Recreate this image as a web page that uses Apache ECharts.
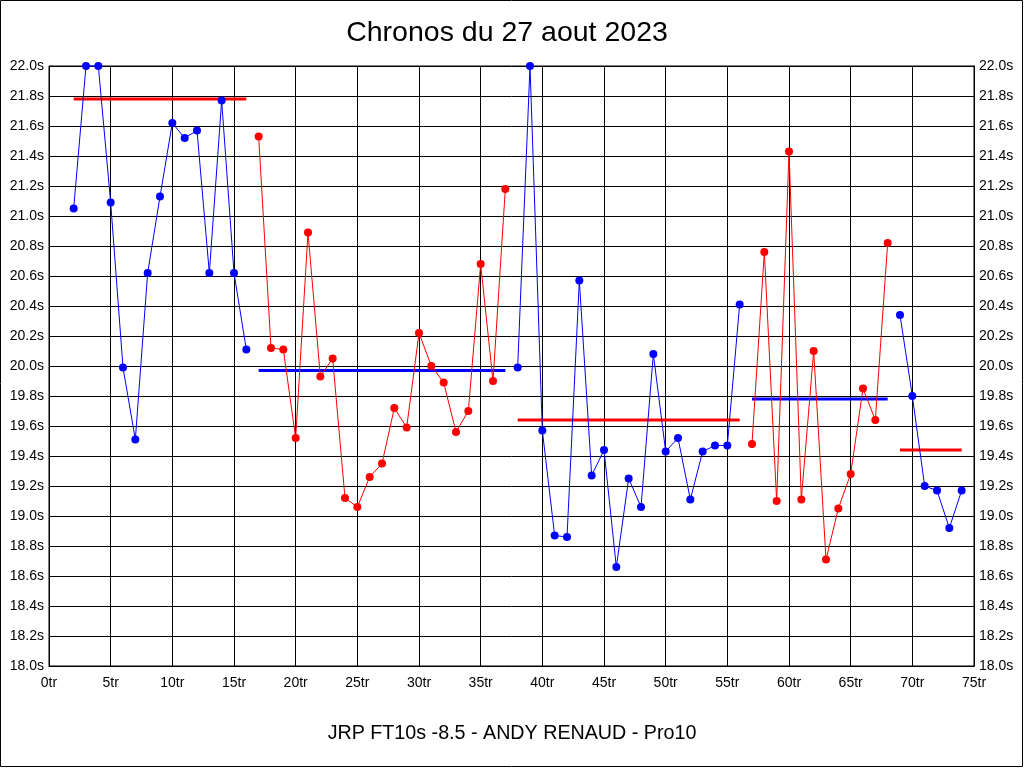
<!DOCTYPE html>
<html>
<head>
<meta charset="utf-8">
<script src="https://cdn.jsdelivr.net/npm/echarts@6/dist/echarts.min.js"></script>
<style>
html,body{margin:0;padding:0;background:#fff;}
#chart{width:1024px;height:768px;}
</style>
</head>
<body>
<div id="chart"></div>
<script>
// Stint 1 (blue)
const laps1 = [2,3,4,5,6,7,8,9,10,11,12,13,14,15,16];
const times1 = [21.05,22.0,22.0,21.09,19.99,19.51,20.62,21.13,21.62,21.52,21.57,20.62,21.77,20.62,20.11];
// Stint 2 (red)
const laps2 = [17,18,19,20,21,22,23,24,25,26,27,28,29,30,31,32,33,34,35,36,37];
const times2 = [21.53,20.12,20.11,19.52,20.89,19.93,20.05,19.12,19.06,19.26,19.35,19.72,19.59,20.22,20.00,19.89,19.56,19.70,20.68,19.90,21.18];
// Stint 3 (blue)
const laps3 = [38,39,40,41,42,43,44,45,46,47,48,49,50,51,52,53,54,55,56];
const times3 = [19.99,22.0,19.57,18.87,18.86,20.57,19.27,19.44,18.66,19.25,19.06,20.08,19.43,19.52,19.11,19.43,19.47,19.47,20.41];
// Stint 4 (red)
const laps4 = [57,58,59,60,61,62,63,64,65,66,67,68];
const times4 = [19.48,20.76,19.10,21.43,19.11,20.10,18.71,19.05,19.28,19.85,19.64,20.82];
// Stint 5 (blue)
const laps5 = [69,70,71,72,73,74];
const times5 = [20.34,19.80,19.20,19.17,18.92,19.17];
// Stint averages
const avgTimes = [21.78,19.97,19.64,19.78,19.44];

const stintColors = ['#0000ff','#ff0000','#0000ff','#ff0000','#0000ff'];
const avgColors = ['#ff0000','#0000ff','#ff0000','#0000ff','#ff0000'];

const xTicks = [0,5,10,15,20,25,30,35,40,45,50,55,60,65,70,75];

const titleText = 'Chronos du 27 aout 2023';
const subText = 'JRP FT10s -8.5 - ANDY RENAUD - Pro10';

const stints = [[laps1,times1],[laps2,times2],[laps3,times3],[laps4,times4],[laps5,times5]];
const FONT = '"Liberation Sans", Arial, sans-serif';

const series = [];
stints.forEach((s, i) => {
  const laps = s[0], times = s[1];
  series.push({
    type: 'line',
    yAxisIndex: 0,
    data: laps.map((l, k) => [l, times[k]]),
    symbol: 'circle',
    symbolSize: 8,
    showSymbol: true,
    itemStyle: {color: stintColors[i]},
    lineStyle: {color: stintColors[i], width: 1},
    clip: false,
    z: 3
  });
  series.push({
    type: 'line',
    yAxisIndex: 0,
    data: [[laps[0], avgTimes[i]], [laps[laps.length-1], avgTimes[i]]],
    symbol: 'none',
    lineStyle: {color: avgColors[i], width: 3},
    z: 2
  });
});

const chart = echarts.init(document.getElementById('chart'), null, {renderer: 'canvas'});
const yLabel = v => v.toFixed(1) + 's';
chart.setOption({
  animation: false,
  backgroundColor: '#ffffff',
  grid: {left: 49, right: 50, top: 66, bottom: 102, show: true, borderColor: '#000', borderWidth: 1},
  xAxis: {
    type: 'value', min: xTicks[0], max: xTicks[xTicks.length-1], interval: 5,
    axisLine: {lineStyle: {color: '#000', width: 1}},
    axisTick: {show: false},
    splitLine: {show: true, lineStyle: {color: '#000', width: 1}},
    axisLabel: {formatter: '{value}tr', color: '#000', fontSize: 14, fontFamily: FONT, margin: 10}
  },
  yAxis: [{
    type: 'value', min: 18, max: 22, interval: 0.2, position: 'left',
    axisLine: {show: true, lineStyle: {color: '#000', width: 1}},
    axisTick: {show: false},
    splitLine: {show: true, lineStyle: {color: '#000', width: 1}},
    axisLabel: {formatter: yLabel, color: '#000', fontSize: 14, fontFamily: FONT, margin: 5}
  }, {
    type: 'value', min: 18, max: 22, interval: 0.2, position: 'right',
    axisLine: {show: true, lineStyle: {color: '#000', width: 1}},
    axisTick: {show: false},
    splitLine: {show: false},
    axisLabel: {formatter: yLabel, color: '#000', fontSize: 14, fontFamily: FONT, margin: 5}
  }],
  graphic: [
    {type: 'rect', shape: {x: 0.5, y: 0.5, width: 1022, height: 766}, style: {fill: 'none', stroke: '#000', lineWidth: 1}, silent: true},
    {type: 'text', x: 507, y: 33, style: {text: titleText, fill: '#000', font: '28.5px ' + FONT, textAlign: 'center', textVerticalAlign: 'middle'}},
    {type: 'text', x: 512, y: 734, style: {text: subText, fill: '#000', font: '19.7px ' + FONT, textAlign: 'center', textVerticalAlign: 'middle'}}
  ],
  series: series
});
</script>
</body>
</html>
